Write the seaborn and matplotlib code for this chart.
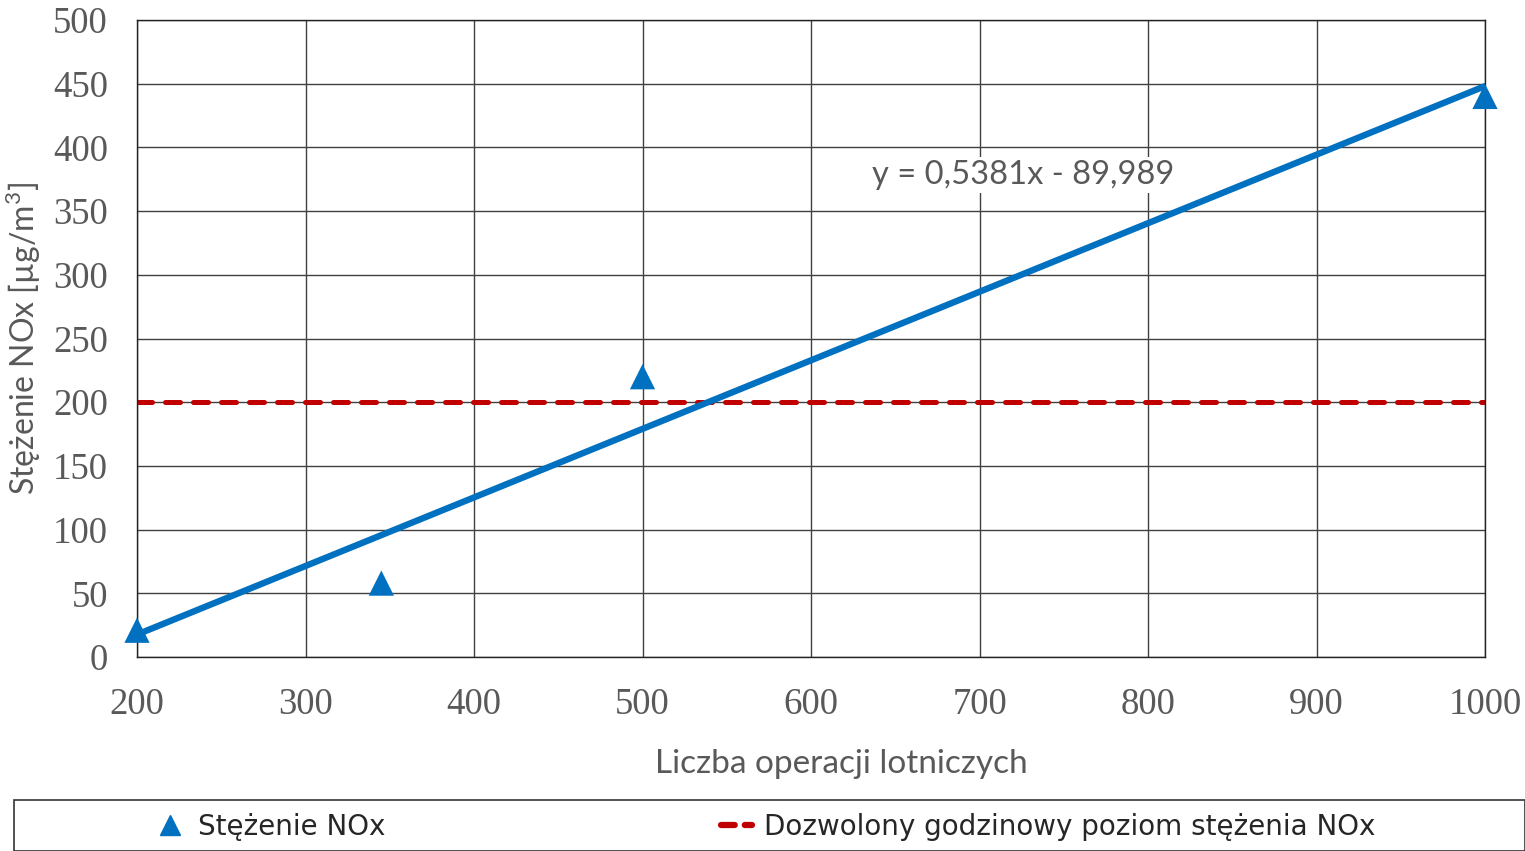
import numpy as np
import pandas as pd
import matplotlib
matplotlib.use("Agg")
import matplotlib.pyplot as plt
import seaborn as sns
from matplotlib.lines import Line2D
from matplotlib.patches import Rectangle

# Data
operations = [200, 345, 500, 1000]
nox = [21, 58, 220, 440]
limit_value = 200
trend_slope = 0.5381
trend_intercept = -89.989
x_ticks = [200, 300, 400, 500, 600, 700, 800, 900, 1000]
y_ticks = [0, 50, 100, 150, 200, 250, 300, 350, 400, 450, 500]
equation_text = "y = 0,5381x - 89,989"
x_label = "Liczba operacji lotniczych"
y_label = "Stężenie NOx [µg/m$^3$]"
legend_labels = ["Stężenie NOx", "Dozwolony godzinowy poziom stężenia NOx"]

blue = "#0070C0"
red = "#C00000"
gray_txt = "#595959"

sns.set_theme(style="white")
plt.rcParams['font.family'] = ['DejaVu Sans']
plt.rcParams['mathtext.fontset'] = 'custom'
plt.rcParams['mathtext.rm'] = 'Lato'

fig = plt.figure(figsize=(15.25, 8.51), dpi=100)
ax = fig.add_axes([137/1525, 1-657/851, (1485-137)/1525, (657-20)/851])

df = pd.DataFrame({"x": operations, "y": nox})

# Trend line
tx = np.array([min(x_ticks), max(x_ticks)])
trend = pd.DataFrame({"x": tx, "y": trend_slope * tx + trend_intercept})
sns.lineplot(data=trend, x="x", y="y", ax=ax, color=blue, linewidth=4.6, zorder=3)

# Limit line
ax.axhline(limit_value, color=red, linewidth=3.6, linestyle=(0, (3.0, 2.6)),
           dash_capstyle="round", zorder=2)

# Points
sns.scatterplot(data=df, x="x", y="y", ax=ax, marker="^", s=330, color=blue,
                edgecolor="none", zorder=4, clip_on=False)

ax.set_xlim(200, 1000)
ax.set_ylim(0, 500)
ax.set_xticks(x_ticks)
ax.set_yticks(y_ticks)
ax.grid(True, color="#404040", linewidth=1.0)
ax.set_axisbelow(True)
for s in ax.spines.values():
    s.set_color("#222222")
    s.set_linewidth(1.0)

ax.tick_params(axis="both", length=0, labelcolor=gray_txt)
for lab in ax.get_xticklabels() + ax.get_yticklabels():
    lab.set_fontfamily("Liberation Serif")
    lab.set_fontsize(26.5)
ax.tick_params(axis="x", pad=22)
ax.tick_params(axis="y", pad=21)

ax.set_xlabel(x_label, fontfamily="Lato", fontsize=24, color=gray_txt)
ax.xaxis.set_label_coords((841-137)/1348, -(749-657)/637)
ax.set_ylabel(y_label, fontfamily="Lato", fontsize=23, color=gray_txt, labelpad=0)
ax.yaxis.set_label_coords((43-137)/1348, 0.5)

ax.text(636, 378, equation_text, fontfamily="Lato", fontsize=23.5, color=gray_txt,
        ha="left", va="center",
        bbox=dict(facecolor="white", edgecolor="none", pad=2))

# Legend box
fig.patches.append(Rectangle((14/1525, 0), (1525-14)/1525, 51/851,
                             transform=fig.transFigure, facecolor="white",
                             edgecolor="#333333", linewidth=1.2, zorder=0))

handles = [
    Line2D([], [], marker="^", color=blue, linestyle="none", markersize=15),
    Line2D([], [], color=red, linewidth=4.5, linestyle=(0, (2.2, 1.6)), dash_capstyle="round"),
]
leg = fig.legend(handles, legend_labels, loc="center",
                 bbox_to_anchor=(765/1525, 24/851),
                 ncol=2, frameon=False,
                 prop={"family": "DejaVu Sans", "size": 20},
                 handlelength=1.1, handletextpad=0.45, columnspacing=12.1,
                 borderaxespad=0, borderpad=0)

fig.savefig("out.png", dpi=100)
